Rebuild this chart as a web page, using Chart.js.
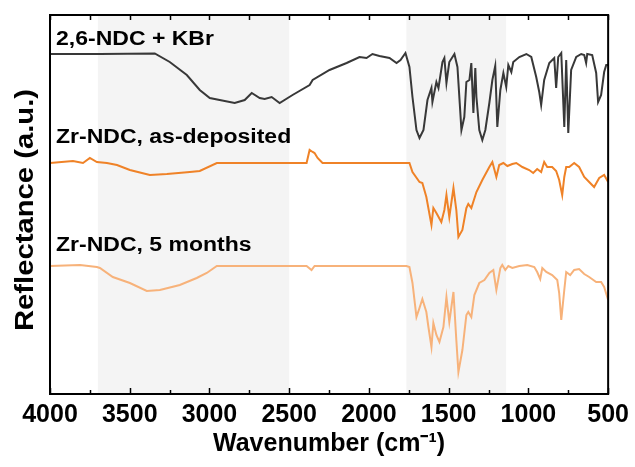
<!DOCTYPE html>
<html>
<head>
<meta charset="utf-8">
<script src="https://cdn.jsdelivr.net/npm/chart.js@4.4.1/dist/chart.umd.min.js"></script>
<style>
  html, body { margin: 0; padding: 0; background: #fff; }
  #c { display: block; }
</style>
</head>
<body>
<canvas id="c" width="635" height="467"></canvas>
<script>
// Spectra. x = wavenumber (cm-1), y = reflectance (a.u., offset traces)
const kbrWn = [4000, 3687, 3343, 3249, 3142, 3061, 2998, 2936, 2842, 2779, 2735, 2685, 2654, 2610, 2560, 2479,
  2372, 2353, 2247, 2140, 2059, 2015, 1978, 1934, 1871, 1827, 1802, 1771, 1746, 1727, 1702, 1683, 1658, 1633,
  1608, 1602, 1577, 1564, 1539, 1527, 1514, 1496, 1464, 1445, 1420, 1402, 1389, 1370, 1358, 1345, 1333, 1326,
  1308, 1289, 1270, 1245, 1226, 1208, 1195, 1176, 1157, 1139, 1126, 1107, 1095, 1057, 1013, 982, 951, 932, 920,
  901, 869, 838, 826, 813, 794, 775, 763, 750, 732, 700, 669, 650, 638, 631, 600, 575, 563, 544, 525, 512, 500];
const kbrVal = [340, 340, 340.5, 332, 319, 304, 296, 294, 291, 294, 301, 296, 295, 297, 291, 299,
  309, 314, 324, 331, 337, 336, 340, 338, 336, 331, 334, 341, 327, 297, 264, 256, 264, 294,
  306, 292, 312, 306, 332, 336, 311, 332, 340, 327, 264, 277, 312, 314, 331, 281, 326, 297,
  264, 254, 264, 291, 314, 328, 267, 304, 321, 307, 329, 322, 332, 337, 340, 337, 317, 302, 289,
  314, 331, 336, 306, 337, 341, 267, 334, 261, 324, 337, 340, 339, 331, 340, 339, 321, 292, 299, 322, 329, 329];

const asDepWn = [4000, 3856, 3793, 3750, 3706, 3643, 3580, 3499, 3374, 3267, 3123, 3061, 2954, 2810, 2391,
  2372, 2353, 2341, 2322, 2291, 1978, 1765, 1746, 1727, 1683, 1665, 1640, 1608, 1596, 1577, 1546, 1527,
  1514, 1496, 1470, 1452, 1439, 1414, 1389, 1377, 1358, 1326, 1289, 1245, 1226, 1201, 1183, 1157, 1132,
  1101, 1076, 1038, 995, 970, 945, 920, 901, 882, 851, 826, 807, 788, 775, 763, 744, 713, 682, 650, 619,
  588, 556, 525, 500];
const asDepVal = [231, 233, 231, 236, 232, 231, 229, 224, 219, 220, 222, 223, 231, 231, 231,
  244, 242, 241, 236, 231, 231, 231, 231, 222, 212, 211, 197, 169, 186, 181, 172, 184,
  199, 177, 206, 184, 157, 164, 186, 190, 186, 202, 214, 227, 232, 217, 229, 231, 228,
  230, 231, 227, 224, 221, 225, 222, 232, 227, 227, 223, 214, 199, 217, 227, 227, 231, 227, 217, 212,
  207, 216, 219, 212];

const agedWn = [4000, 3812, 3706, 3687, 3606, 3499, 3393, 3311, 3186, 3080, 3017, 2954, 2391, 2360, 2341,
  1765, 1746, 1727, 1702, 1683, 1665, 1640, 1627, 1608, 1596, 1577, 1558, 1533, 1514, 1496, 1470, 1452,
  1439, 1414, 1389, 1377, 1358, 1339, 1308, 1276, 1245, 1220, 1201, 1176, 1164, 1145, 1126, 1101, 1057,
  1007, 963, 945, 926, 913, 888, 851, 819, 807, 794, 775, 763, 738, 713, 682, 650, 619, 575, 544, 525, 500];
const agedVal = [128, 129, 127, 126, 117, 111, 103, 104, 109, 116, 121, 128, 128, 124, 128,
  128, 127, 111, 77, 86, 95, 82, 67, 47, 71, 59, 52, 67, 97, 72, 102, 54,
  22, 44, 79, 82, 77, 99, 111, 114, 121, 124, 104, 126, 129, 124, 128, 126, 128,
  129, 127, 122, 115, 126, 122, 119, 114, 101, 74, 104, 122, 119, 124, 125, 120, 117, 112, 112, 107, 94];

const seriesNames = ['2,6-NDC + KBr', 'Zr-NDC, as-deposited', 'Zr-NDC, 5 months'];
const seriesColors = ['#383838', '#ef8227', '#f7b27a'];
// label anchor: wavenumber, reflectance at text baseline
const labelWn = [3962, 3962, 3962];
const labelVal = [349, 251, 143];

const shadeBands = [[3700, 2500], [1765, 1140]];
const xTicks = [4000, 3500, 3000, 2500, 2000, 1500, 1000, 500];

function toPoints(xs, ys) {
  return xs.map((x, i) => ({ x: x, y: ys[i] }));
}

const FONT = '"Liberation Sans", Arial, sans-serif';

const decorPlugin = {
  id: 'decor',
  beforeDatasetsDraw(chart) {
    const { ctx, chartArea: a, scales: { x } } = chart;
    ctx.save();
    ctx.fillStyle = '#f4f4f4';
    shadeBands.forEach(([hi, lo]) => {
      const x1 = x.getPixelForValue(hi);
      const x2 = x.getPixelForValue(lo);
      ctx.fillRect(x1, a.top, x2 - x1, a.bottom - a.top);
    });
    ctx.restore();
  },
  afterDatasetsDraw(chart) {
    const { ctx, chartArea: a, scales: { x, y } } = chart;
    ctx.save();
    // tick marks, pointing inward, on bottom and top
    ctx.strokeStyle = '#000';
    ctx.lineWidth = 1.5;
    for (let v = 500; v <= 4000; v += 250) {
      const px = Math.round(x.getPixelForValue(v)) + 0.5;
      const major = v % 500 === 0;
      const len = major ? 6 : 4;
      ctx.beginPath();
      ctx.moveTo(px, a.bottom);
      ctx.lineTo(px, a.bottom - len);
      ctx.moveTo(px, a.top);
      ctx.lineTo(px, a.top + 5);
      ctx.stroke();
    }
    // frame
    ctx.lineWidth = 2;
    ctx.strokeRect(a.left, a.top, a.right - a.left, a.bottom - a.top);

    // trace labels
    ctx.fillStyle = '#000';
    ctx.font = 'bold 20px ' + FONT;
    ctx.textBaseline = 'alphabetic';
    seriesNames.forEach((name, i) => {
      ctx.save();
      ctx.translate(x.getPixelForValue(labelWn[i]), y.getPixelForValue(labelVal[i]));
      ctx.scale(1.15, 1);
      ctx.fillText(name, 0, 0);
      ctx.restore();
    });

    // y-axis title
    ctx.save();
    ctx.translate(33, 210);
    ctx.rotate(-Math.PI / 2);
    ctx.scale(1.17, 1);
    ctx.font = 'bold 25px ' + FONT;
    ctx.textAlign = 'center';
    ctx.textBaseline = 'alphabetic';
    ctx.fillText('Reflectance (a.u.)', 0, 0);
    ctx.restore();
    ctx.restore();
  }
};

new Chart(document.getElementById('c'), {
  type: 'line',
  data: {
    datasets: [
      { label: seriesNames[0], data: toPoints(kbrWn, kbrVal), borderColor: seriesColors[0] },
      { label: seriesNames[1], data: toPoints(asDepWn, asDepVal), borderColor: seriesColors[1] },
      { label: seriesNames[2], data: toPoints(agedWn, agedVal), borderColor: seriesColors[2] }
    ]
  },
  options: {
    responsive: false,
    animation: false,
    devicePixelRatio: 1,
    layout: { padding: { left: 50, top: 15, right: 26, bottom: 0 } },
    elements: {
      line: { borderWidth: 2, tension: 0, fill: false },
      point: { radius: 0 }
    },
    plugins: { legend: { display: false }, tooltip: { enabled: false } },
    scales: {
      x: {
        type: 'linear',
        reverse: true,
        min: 500,
        max: 4000,
        afterBuildTicks(scale) { scale.ticks = xTicks.map(v => ({ value: v })); },
        afterFit(scale) { scale.height = 73; },
        grid: { display: false, drawTicks: false },
        border: { display: false },
        ticks: {
          autoSkip: false,
          maxRotation: 0,
          padding: 6,
          color: '#000',
          font: { family: FONT, size: 25, weight: 'bold' },
          callback: v => String(v)
        },
        title: {
          display: true,
          text: 'Wavenumber (cm\u207B\u00B9)',
          color: '#000',
          font: { family: FONT, size: 25, weight: 'bold' },
          padding: { top: 0, bottom: 8 }
        }
      },
      y: {
        display: false,
        min: 0,
        max: 379
      }
    }
  },
  plugins: [decorPlugin]
});
</script>
</body>
</html>
